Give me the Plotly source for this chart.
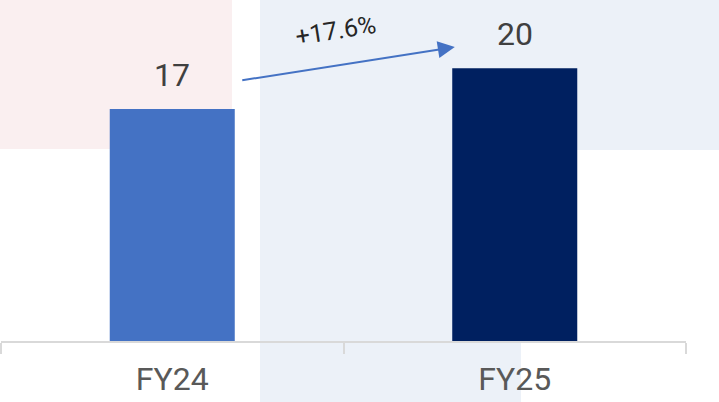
import plotly.graph_objects as go

categories = ["FY24", "FY25"]
values = [17, 20]
bar_colors = ["#4472C4", "#002060"]
growth_pct = (values[1] - values[0]) / values[0] * 100

fig = go.Figure()
fig.add_trace(go.Bar(
    x=categories, y=values, marker=dict(color=bar_colors, line=dict(width=0)),
    width=0.365, hoverinfo="skip", showlegend=False,
))

# value labels
for c, v in zip(categories, values):
    fig.add_annotation(x=c, y=v, text=str(v), showarrow=False, yanchor="bottom",
                       yshift=13, font=dict(family="Roboto", size=32, color="#404040"))

# growth arrow
fig.add_annotation(x=0.825, y=values[1] + 1.55, ax=0.2, ay=values[0] + 2.1,
                   xref="x", yref="y", axref="x", ayref="y", text="",
                   showarrow=True, arrowhead=2, arrowsize=1.7, arrowwidth=2,
                   arrowcolor="#4472C4")
fig.add_annotation(x=0.477, y=values[1] + 2.8, xref="x", yref="y",
                   text=f"+{growth_pct:.1f}%", showarrow=False, textangle=-9,
                   font=dict(family="Roboto", size=25, color="#262626"))

W, H = 719, 402
L, R, T, B = 1, 33, 0, 61
pw, ph = W - L - R, H - T - B
def px(x): return (x - L) / pw
def py(y): return (H - B - y) / ph

shapes = [
    dict(type="rect", xref="paper", yref="paper", x0=px(0), x1=px(232), y0=py(149), y1=py(0),
         fillcolor="#FAEFF0", line=dict(width=0), layer="below"),
    dict(type="rect", xref="paper", yref="paper", x0=px(260), x1=px(719), y0=py(150), y1=py(0),
         fillcolor="#ECF1F8", line=dict(width=0), layer="below"),
    dict(type="rect", xref="paper", yref="paper", x0=px(260), x1=px(521), y0=py(402), y1=py(150),
         fillcolor="#ECF1F8", line=dict(width=0), layer="below"),
]

fig.update_layout(
    width=W, height=H, margin=dict(l=L, r=R, t=T, b=B),
    paper_bgcolor="white", plot_bgcolor="rgba(0,0,0,0)",
    shapes=shapes,
    xaxis=dict(showline=True, linecolor="#d9d9d9", linewidth=1.5, ticks="outside",
               tickson="boundaries", ticklen=11, tickcolor="#d9d9d9", tickwidth=1.5,
               showgrid=False, tickfont=dict(family="Roboto", size=32, color="#595959"),
               ticklabelstandoff=9),
    yaxis=dict(range=[0, 25], visible=False, showgrid=False, zeroline=False),
)

fig.write_html("out.html", config={"displayModeBar": False},
               post_script="document.body.style.margin='0';document.body.style.overflow='hidden';")
